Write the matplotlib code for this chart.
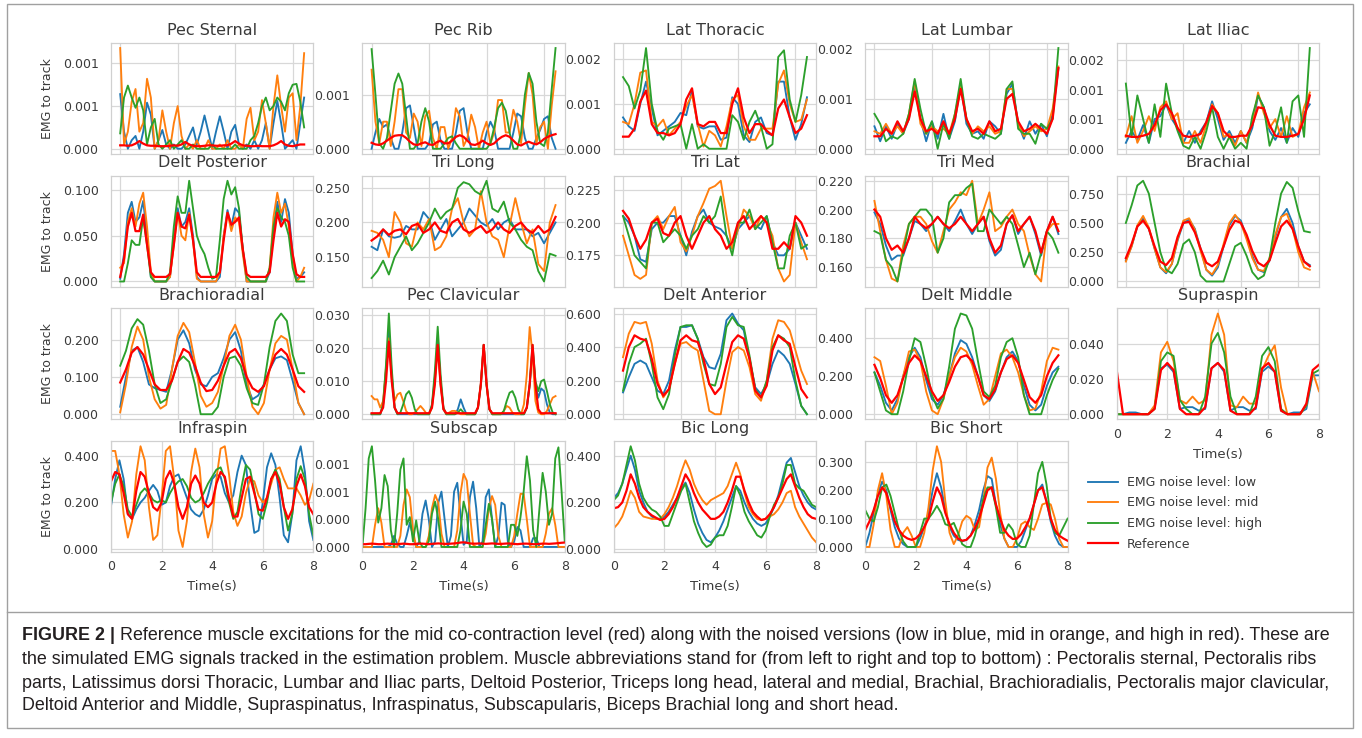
import numpy as np
import matplotlib
matplotlib.use("Agg")
import matplotlib.pyplot as plt
from matplotlib.ticker import FormatStrFormatter
from matplotlib.lines import Line2D
from matplotlib.patches import Rectangle

# ── colours / labels ──
C_LOW, C_MID, C_HIGH, C_REF = "#1f77b4", "#ff7f0e", "#2ca02c", "#ff0000"
LEVEL_LABELS = ["EMG noise level: low", "EMG noise level: mid",
                "EMG noise level: high", "Reference"]

# ── values ──
# rows 1-3 are sampled evenly over the nodes (0..64), row 4 and
# Supraspin evenly over time 0..8 s.  order: low, mid, high, reference

pec_sternal_low = np.array([0.64,0.2,0.0,0.1,0.15,0.0,0.2,0.54,0.4,0.0,0.1,0.22,0.05,0.0,0.05,0.0,0.0,0.05,0.15,0.25,0.05,0.2,0.39,0.2,0.0,0.2,0.38,0.2,0.0,0.2,0.28,0.05,0.0,0.05,0.0,0.1,0.0,0.1,0.3,0.0,0.3,0.56,0.3,0.0,0.05,0.1,0.0,0.3,0.6]) * 1e-3
pec_sternal_mid = np.array([1.18,0.05,0.2,0.55,0.70,0.2,0.3,0.82,0.6,0.0,0.1,0.45,0.2,0.0,0.3,0.50,0.15,0.0,0.05,0.0,0.1,0.0,0.0,0.1,0.0,0.0,0.05,0.0,0.1,0.0,0.0,0.05,0.0,0.35,0.48,0.1,0.2,0.57,0.3,0.0,0.5,0.86,0.5,0.2,0.6,0.65,0.1,0.5,1.12]) * 1e-3
pec_sternal_high = np.array([0.18,0.6,0.74,0.6,0.48,0.6,0.45,0.05,0.25,0.35,0.05,0.0,0.05,0.1,0.0,0.05,0.1,0.0,0.0,0.05,0.0,0.0,0.0,0.0,0.05,0.0,0.0,0.0,0.0,0.0,0.05,0.0,0.0,0.0,0.1,0.15,0.3,0.5,0.6,0.45,0.5,0.6,0.55,0.45,0.65,0.75,0.76,0.55,0.25]) * 1e-3
pec_sternal_ref = np.array([0.04,0.04,0.035,0.04,0.06,0.09,0.06,0.04,0.035,0.035,0.03,0.03,0.03,0.035,0.04,0.035,0.05,0.08,0.05,0.035,0.03,0.03,0.035,0.04,0.04,0.035,0.035,0.04,0.04,0.06,0.09,0.06,0.04,0.035,0.03,0.03,0.035,0.03,0.03,0.03,0.04,0.06,0.09,0.05,0.035,0.03,0.04,0.05,0.05]) * 1e-3

pec_rib_low = np.array([0.0,0.3,0.55,0.4,0.45,0.2,0.0,0.0,0.3,0.75,0.8,0.4,0.0,0.0,0.0,0.1,0.45,0.5,0.15,0.0,0.0,0.0,0.3,0.7,0.75,0.3,0.0,0.0,0.0,0.0,0.3,0.5,0.35,0.0,0.0,0.0,0.0,0.3,0.65,0.6,0.2,0.0,0.0,0.2,0.35,0.55,0.6,0.2,0.0]) * 1e-3
pec_rib_mid = np.array([1.46,0.5,0.1,0.5,0.5,0.05,0.5,1.1,1.1,0.3,0.2,0.65,0.5,0.05,0.6,0.7,0.2,0.0,0.4,0.4,0.0,0.2,0.75,0.6,0.05,0.2,0.63,0.4,0.0,0.3,0.5,0.1,0.3,0.9,0.9,0.3,0.3,0.72,0.5,0.1,0.8,1.4,1.0,0.1,0.4,0.5,0.0,0.8,1.43]) * 1e-3
pec_rib_high = np.array([1.84,1.0,0.1,0.0,0.2,0.7,1.2,1.39,1.2,0.6,0.0,0.0,0.1,0.5,0.75,0.5,0.0,0.0,0.0,0.1,0.2,0.23,0.1,0.0,0.0,0.0,0.0,0.0,0.0,0.0,0.0,0.1,0.4,0.75,0.85,0.7,0.3,0.0,0.0,0.3,1.0,1.4,1.2,0.5,0.1,0.05,0.3,1.1,1.86]) * 1e-3
pec_rib_ref = np.array([0.11,0.08,0.07,0.1,0.15,0.2,0.24,0.25,0.25,0.2,0.13,0.08,0.07,0.1,0.12,0.08,0.07,0.12,0.15,0.1,0.1,0.15,0.22,0.25,0.22,0.15,0.08,0.07,0.1,0.15,0.1,0.07,0.1,0.17,0.22,0.25,0.22,0.15,0.08,0.06,0.1,0.13,0.1,0.08,0.12,0.18,0.22,0.25,0.27]) * 1e-3

lat_thoracic_low = np.array([0.7,0.5,0.4,1.0,1.5,0.9,0.3,0.4,0.5,0.6,0.8,0.75,1.3,0.5,0.45,0.5,0.5,0.2,0.25,1.15,1.0,0.3,0.15,0.6,0.7,0.35,0.3,1.5,1.5,0.7,0.2,0.55,1.15]) * 1e-3
lat_thoracic_mid = np.array([0.6,0.55,1.0,1.7,1.75,0.6,0.5,0.65,0.3,0.45,0.6,0.95,1.2,0.55,0.05,0.4,0.3,0.05,0.5,1.1,1.2,0.5,0.2,0.2,0.45,0.45,0.45,1.45,1.75,1.0,0.6,0.65,1.1]) * 1e-3
lat_thoracic_high = np.array([1.6,1.4,0.9,1.3,2.25,1.0,0.4,0.2,0.45,0.5,0.55,0.0,0.55,0.0,0.1,0.0,0.0,0.0,0.0,0.75,0.6,0.2,0.6,0.85,0.5,0.0,0.1,2.05,2.2,1.1,0.6,1.2,2.05]) * 1e-3
lat_thoracic_ref = np.array([0.27,0.27,0.45,1.05,1.3,0.55,0.35,0.35,0.3,0.35,0.55,1.1,1.35,0.55,0.5,0.6,0.6,0.35,0.35,1.0,1.35,0.7,0.35,0.55,0.55,0.4,0.3,0.9,1.1,0.7,0.35,0.45,0.75]) * 1e-3

lat_lumbar_low = np.array([0.45,0.15,0.45,0.2,0.5,0.3,0.6,1.3,0.6,0.15,0.55,0.2,0.7,0.2,0.55,1.3,0.5,0.3,0.35,0.2,0.55,0.45,0.3,1.1,1.3,0.5,0.2,0.55,0.3,0.5,0.25,0.7,1.6]) * 1e-3
lat_lumbar_mid = np.array([0.35,0.3,0.5,0.3,0.45,0.3,0.7,1.35,0.5,0.3,0.45,0.35,0.4,0.3,0.7,1.25,0.6,0.3,0.45,0.35,0.45,0.3,0.35,1.2,1.2,0.5,0.25,0.35,0.45,0.35,0.4,0.8,1.65]) * 1e-3
lat_lumbar_high = np.array([0.7,0.5,0.15,0.25,0.2,0.3,0.7,1.4,0.8,0.3,0.55,0.0,0.5,0.2,0.7,1.4,0.6,0.25,0.2,0.3,0.25,0.2,0.3,1.2,1.35,0.4,0.3,0.3,0.1,0.5,0.4,0.6,2.02]) * 1e-3
lat_lumbar_ref = np.array([0.25,0.25,0.4,0.3,0.55,0.35,0.6,1.15,0.6,0.35,0.4,0.3,0.55,0.3,0.6,1.2,0.6,0.35,0.4,0.3,0.55,0.35,0.4,1.0,1.1,0.55,0.35,0.4,0.5,0.4,0.3,0.6,1.62]) * 1e-3

lat_iliac_low = np.array([0.1,0.3,0.15,0.4,0.1,0.5,0.55,0.75,0.5,0.35,0.1,0.3,0.1,0.3,0.45,0.8,0.5,0.15,0.3,0.1,0.3,0.1,0.35,0.9,0.7,0.3,0.15,0.35,0.1,0.35,0.2,0.6,0.75]) * 1e-3
lat_iliac_mid = np.array([0.2,0.55,0.1,0.3,0.55,0.3,0.7,0.8,0.5,0.6,0.1,0.1,0.3,0.1,0.4,0.75,0.6,0.2,0.25,0.05,0.3,0.1,0.45,0.95,0.6,0.35,0.5,0.2,0.55,0.2,0.25,0.7,0.95]) * 1e-3
lat_iliac_high = np.array([1.1,0.2,0.9,0.5,0.1,0.75,0.2,1.1,0.6,0.3,0.05,0.0,0.2,0.0,0.3,0.7,0.2,0.0,0.2,0.0,0.1,0.0,0.55,0.9,0.7,0.05,0.3,0.7,0.1,0.8,0.9,0.2,1.7]) * 1e-3
lat_iliac_ref = np.array([0.22,0.2,0.2,0.22,0.25,0.4,0.65,0.75,0.6,0.35,0.22,0.2,0.22,0.25,0.45,0.72,0.6,0.3,0.2,0.2,0.22,0.22,0.4,0.7,0.68,0.4,0.22,0.2,0.2,0.22,0.25,0.5,0.9]) * 1e-3

delt_post_low = np.array([0.3,3.0,7.5,8.7,6.5,7.0,8.8,5.0,0.5,0.0,0.0,0.0,0.0,0.5,4.5,8.0,6.0,6.5,8.0,5.0,0.5,0.0,0.0,0.0,0.0,0.0,0.5,5.0,7.8,6.0,8.0,7.5,3.5,0.0,0.0,0.0,0.0,0.0,0.0,1.0,5.5,8.7,6.5,9.0,7.5,3.0,0.3,0.5,1.0]) * 1e-2
delt_post_mid = np.array([1.5,2.0,6.5,8.0,6.0,8.5,9.7,6.0,1.0,0.0,0.0,0.0,0.0,0.5,4.0,7.5,5.0,4.5,7.5,4.5,0.3,0.0,0.0,0.0,0.0,0.0,1.0,5.0,7.5,5.5,7.0,6.5,3.0,0.0,0.0,0.0,0.0,0.0,0.0,1.5,7.0,9.7,7.5,8.5,6.0,2.0,0.0,0.5,1.5]) * 1e-2
delt_post_high = np.array([0.0,0.0,2.0,4.5,4.0,4.0,7.0,4.0,0.5,0.0,0.0,0.0,0.0,1.0,6.0,9.3,7.5,7.5,11.0,8.0,5.0,3.8,3.0,1.5,0.3,0.5,4.5,9.0,11.0,9.5,10.3,8.0,3.5,0.5,0.0,0.0,0.0,0.0,0.0,1.5,6.0,8.0,7.0,6.5,5.0,1.5,0.0,0.0,0.0]) * 1e-2
delt_post_ref = np.array([0.5,2.5,6.0,7.5,5.5,5.5,7.3,4.0,1.0,0.5,0.5,0.5,0.5,0.8,4.0,7.5,6.0,5.8,7.3,4.5,1.0,0.5,0.5,0.5,0.5,0.5,1.0,4.5,7.5,6.2,6.5,7.0,3.5,0.8,0.5,0.5,0.5,0.5,0.5,1.0,4.5,7.5,6.0,6.8,6.5,3.0,0.8,0.5,0.5]) * 1e-2

tri_long_low = [0.165,0.16,0.19,0.18,0.178,0.18,0.195,0.19,0.19,0.215,0.205,0.175,0.19,0.205,0.18,0.19,0.2,0.22,0.21,0.2,0.195,0.205,0.19,0.2,0.205,0.19,0.19,0.19,0.18,0.185,0.17,0.185,0.2]
tri_long_mid = [0.188,0.185,0.175,0.15,0.215,0.2,0.17,0.165,0.2,0.19,0.205,0.16,0.165,0.18,0.22,0.235,0.2,0.18,0.19,0.245,0.2,0.18,0.175,0.15,0.195,0.235,0.2,0.17,0.19,0.14,0.13,0.2,0.225]
tri_long_high = [0.12,0.13,0.145,0.125,0.15,0.165,0.18,0.16,0.17,0.185,0.2,0.22,0.205,0.215,0.22,0.25,0.258,0.255,0.245,0.24,0.26,0.22,0.215,0.23,0.2,0.19,0.175,0.165,0.16,0.13,0.115,0.155,0.152]
tri_long_ref = [0.174,0.18,0.19,0.182,0.188,0.19,0.183,0.195,0.198,0.185,0.19,0.2,0.188,0.185,0.2,0.205,0.19,0.185,0.19,0.195,0.185,0.19,0.2,0.19,0.185,0.195,0.2,0.19,0.185,0.195,0.185,0.19,0.208]

tri_lat_low = [0.205,0.2,0.19,0.172,0.17,0.195,0.2,0.2,0.205,0.205,0.19,0.175,0.193,0.205,0.21,0.2,0.197,0.195,0.19,0.18,0.195,0.2,0.205,0.198,0.195,0.205,0.185,0.175,0.175,0.18,0.2,0.19,0.18]
tri_lat_mid = [0.19,0.175,0.16,0.157,0.16,0.2,0.205,0.195,0.205,0.212,0.185,0.178,0.19,0.205,0.215,0.226,0.228,0.232,0.205,0.18,0.195,0.21,0.205,0.195,0.205,0.2,0.19,0.165,0.155,0.16,0.2,0.185,0.172]
tri_lat_high = [0.205,0.19,0.175,0.17,0.165,0.2,0.2,0.185,0.19,0.195,0.19,0.18,0.19,0.195,0.205,0.2,0.205,0.22,0.19,0.175,0.2,0.2,0.21,0.195,0.2,0.205,0.185,0.165,0.165,0.19,0.2,0.18,0.183]
tri_lat_ref = [0.209,0.203,0.19,0.18,0.187,0.2,0.203,0.192,0.19,0.2,0.205,0.19,0.18,0.19,0.2,0.205,0.195,0.19,0.18,0.185,0.2,0.205,0.195,0.2,0.205,0.2,0.18,0.18,0.185,0.18,0.205,0.2,0.19]

tri_med_low = [0.198,0.19,0.175,0.165,0.168,0.168,0.18,0.192,0.19,0.185,0.19,0.195,0.19,0.185,0.192,0.2,0.19,0.183,0.19,0.195,0.178,0.168,0.172,0.19,0.196,0.183,0.19,0.195,0.183,0.168,0.185,0.195,0.183]
tri_med_mid = [0.206,0.185,0.165,0.152,0.15,0.175,0.19,0.195,0.195,0.19,0.178,0.17,0.185,0.2,0.205,0.212,0.21,0.22,0.19,0.2,0.212,0.185,0.188,0.195,0.2,0.19,0.185,0.168,0.155,0.15,0.185,0.19,0.19]
tri_med_high = [0.185,0.183,0.165,0.16,0.15,0.17,0.19,0.195,0.2,0.2,0.195,0.17,0.18,0.205,0.21,0.21,0.215,0.218,0.185,0.185,0.2,0.195,0.19,0.195,0.19,0.175,0.16,0.17,0.155,0.17,0.185,0.18,0.17]
tri_med_ref = [0.2,0.195,0.18,0.172,0.175,0.17,0.18,0.195,0.19,0.187,0.19,0.195,0.19,0.187,0.19,0.195,0.19,0.185,0.19,0.195,0.18,0.17,0.175,0.19,0.196,0.185,0.19,0.195,0.185,0.17,0.185,0.195,0.185]

brachial_low = [0.18,0.3,0.47,0.54,0.45,0.28,0.12,0.07,0.15,0.35,0.5,0.53,0.45,0.28,0.1,0.05,0.12,0.3,0.48,0.56,0.52,0.38,0.22,0.1,0.08,0.18,0.38,0.55,0.62,0.5,0.3,0.17,0.14]
brachial_mid = [0.17,0.3,0.48,0.56,0.46,0.28,0.12,0.08,0.15,0.36,0.52,0.54,0.44,0.26,0.1,0.06,0.14,0.32,0.5,0.57,0.5,0.36,0.2,0.1,0.09,0.2,0.4,0.55,0.58,0.45,0.25,0.12,0.1]
brachial_high = [0.5,0.65,0.82,0.86,0.75,0.5,0.25,0.1,0.07,0.15,0.32,0.36,0.25,0.05,0.0,0.0,0.0,0.0,0.15,0.3,0.33,0.22,0.08,0.02,0.05,0.2,0.5,0.75,0.85,0.8,0.6,0.43,0.42]
brachial_ref = [0.2,0.32,0.47,0.52,0.45,0.3,0.17,0.14,0.2,0.38,0.5,0.51,0.42,0.28,0.16,0.13,0.17,0.3,0.44,0.52,0.5,0.4,0.26,0.16,0.13,0.18,0.33,0.47,0.52,0.45,0.3,0.17,0.13]

brachiorad_low = [0.02,0.1,0.17,0.18,0.14,0.08,0.07,0.065,0.06,0.12,0.2,0.225,0.19,0.12,0.08,0.075,0.1,0.11,0.15,0.2,0.22,0.17,0.08,0.04,0.05,0.08,0.12,0.15,0.155,0.145,0.09,0.03,0.0]
brachiorad_mid = [0.005,0.08,0.18,0.235,0.2,0.1,0.04,0.015,0.025,0.12,0.21,0.245,0.22,0.14,0.05,0.02,0.03,0.06,0.13,0.21,0.24,0.2,0.1,0.02,0.0,0.03,0.12,0.19,0.21,0.2,0.12,0.03,0.0]
brachiorad_high = [0.13,0.17,0.23,0.255,0.24,0.17,0.08,0.03,0.04,0.09,0.14,0.155,0.14,0.08,0.0,0.0,0.0,0.02,0.1,0.15,0.155,0.13,0.07,0.03,0.025,0.08,0.18,0.25,0.27,0.25,0.16,0.11,0.11]
brachiorad_ref = [0.085,0.12,0.165,0.18,0.16,0.12,0.08,0.065,0.065,0.09,0.14,0.175,0.165,0.13,0.085,0.062,0.065,0.09,0.13,0.165,0.175,0.15,0.1,0.07,0.06,0.075,0.12,0.16,0.175,0.16,0.12,0.075,0.06]

pec_clav_low = np.array([0,0,0,0,3,13,25,12,2, 0,0,0,0,0,0,0,0,0,0,0,0, 2.5,11,22,10,1.5, 0,0,0,0,1.5,4.5,2,0,0,0,0, 2,9,21,9,1.5, 0,0,0,0,0,0,0,0,0,0,0,0, 2,9,20,9,5, 7.8,7,3,0.5,0,0]) * 1e-3
pec_clav_mid = np.array([5.5,4.5,4.5,2,4,14,23,11,4, 6,6.5,4,1,0,0,0.5,1.5,2.5,1.5,0.3,0, 2,10,21,9,1.5, 0,0.5,1,1,0.5,0,0,0,0,0,0, 2,9,21,9,1.5, 0,0,0,0,1,2.5,2,0.5,0,0,0,3, 12,26.4,18,4,0.5, 0,0,1,3,5,5.5]) * 1e-3
pec_clav_high = np.array([0,0,0,0,3,15,30.5,14,2, 0,0.5,3,6,7,5,1.5,0,0,0,0,0, 3,13,26.5,12,2, 0,0,0,0,0.5,1.5,0.5,0,0,0,0, 2,9,21,9,1.5, 0,0,0,0,1,4,6.5,7,5,1.5,0,0, 2,9,21,10,7, 10,10.5,7,3,0.5,0]) * 1e-3
pec_clav_ref = np.array([0.3,0.3,0.3,0.3,2,10,22,10,2, 0.3,0.3,0.3,0.3,0.3,0.3,0.3,0.3,0.3,0.3,0.3,0.3, 2,9,21,9,1.5, 0.3,0.3,0.3,0.3,0.3,0.3,0.3,0.3,0.3,0.3,0.3, 2,9,21,9,1.5, 0.3,0.3,0.3,0.3,0.3,0.3,0.3,0.3,0.3,0.3,0.3,0.3, 2,9,21,9,1.5, 0.3,0.3,0.3,0.3,0.3,0.3]) * 1e-3

delt_ant_low = [0.13,0.22,0.3,0.32,0.3,0.22,0.14,0.12,0.2,0.38,0.52,0.52,0.53,0.45,0.34,0.28,0.27,0.36,0.56,0.6,0.54,0.5,0.33,0.16,0.12,0.18,0.3,0.38,0.35,0.3,0.18,0.05,0.0]
delt_ant_mid = [0.34,0.48,0.55,0.54,0.55,0.42,0.2,0.1,0.15,0.3,0.42,0.43,0.4,0.38,0.2,0.02,0.0,0.0,0.2,0.37,0.4,0.38,0.28,0.12,0.08,0.2,0.45,0.56,0.55,0.5,0.38,0.26,0.18]
delt_ant_high = [0.14,0.3,0.4,0.42,0.45,0.3,0.1,0.03,0.12,0.35,0.52,0.53,0.53,0.45,0.3,0.18,0.17,0.3,0.52,0.58,0.53,0.52,0.35,0.15,0.1,0.2,0.4,0.47,0.45,0.4,0.2,0.05,0.0]
delt_ant_ref = [0.26,0.4,0.47,0.45,0.44,0.33,0.18,0.11,0.15,0.3,0.44,0.47,0.44,0.43,0.33,0.18,0.12,0.16,0.3,0.43,0.47,0.45,0.33,0.14,0.1,0.17,0.38,0.47,0.44,0.42,0.28,0.15,0.1]

delt_mid_low = [0.22,0.15,0.06,0.02,0.08,0.2,0.3,0.35,0.3,0.18,0.08,0.05,0.1,0.2,0.32,0.39,0.37,0.3,0.2,0.1,0.07,0.12,0.22,0.3,0.33,0.28,0.15,0.05,0.02,0.05,0.15,0.22,0.25]
delt_mid_mid = [0.3,0.28,0.15,0.0,0.06,0.2,0.33,0.34,0.28,0.12,0.02,0.0,0.08,0.2,0.3,0.35,0.33,0.26,0.15,0.05,0.08,0.2,0.32,0.34,0.3,0.22,0.1,0.02,0.03,0.12,0.28,0.35,0.34]
delt_mid_high = [0.22,0.12,0.02,0.0,0.0,0.12,0.28,0.4,0.38,0.25,0.1,0.03,0.08,0.25,0.45,0.53,0.52,0.45,0.28,0.12,0.09,0.15,0.3,0.38,0.4,0.3,0.1,0.0,0.0,0.0,0.1,0.18,0.24]
delt_mid_ref = [0.26,0.19,0.1,0.06,0.1,0.19,0.27,0.31,0.28,0.2,0.12,0.07,0.1,0.17,0.25,0.3,0.31,0.28,0.2,0.1,0.08,0.13,0.22,0.29,0.31,0.27,0.18,0.09,0.06,0.1,0.2,0.27,0.31]

supraspin_low = np.array([0,0,1,1,0,0,4,26,28,24,3,4,4,2,3,26,29,24,2,4,4,2,3,24,27,24,2,0,1,1,3,22,22]) * 1e-3
supraspin_mid = np.array([0,0,0,0,0,0,5,35,41,30,8,6,10,6,8,45,57,45,5,4,10,6,6,25,33,39,15,0,0,0,5,24,13]) * 1e-3
supraspin_high = np.array([0,0,0,0,0,0,3,30,35,33,8,3,0,0,10,40,46,35,10,0,0,0,10,33,38,30,3,0,0,0,5,23,25]) * 1e-3
supraspin_ref = np.array([25,0,0,0,0,0,3,25,29,25,3,0,0,0,4,26,29,25,2,0,0,0,4,26,29,24,2,0,0,0,6,25,28]) * 1e-3

infraspin_low = [0.185,0.3,0.38,0.3,0.15,0.13,0.17,0.2,0.22,0.25,0.275,0.25,0.19,0.2,0.27,0.31,0.32,0.27,0.22,0.17,0.15,0.14,0.17,0.23,0.3,0.32,0.31,0.24,0.2,0.23,0.33,0.4,0.36,0.2,0.07,0.08,0.2,0.35,0.41,0.36,0.22,0.06,0.03,0.15,0.38,0.44,0.33,0.12,0.04]
infraspin_mid = [0.42,0.42,0.32,0.15,0.05,0.12,0.32,0.44,0.38,0.18,0.04,0.06,0.22,0.42,0.44,0.3,0.08,0.01,0.12,0.33,0.43,0.35,0.15,0.05,0.12,0.3,0.43,0.44,0.32,0.16,0.1,0.14,0.24,0.3,0.29,0.23,0.2,0.22,0.28,0.34,0.35,0.3,0.26,0.26,0.26,0.23,0.19,0.21,0.28]
infraspin_high = [0.2,0.28,0.32,0.27,0.17,0.14,0.19,0.24,0.26,0.24,0.21,0.2,0.21,0.2,0.24,0.27,0.29,0.3,0.27,0.22,0.2,0.21,0.24,0.28,0.31,0.34,0.35,0.3,0.2,0.13,0.16,0.27,0.36,0.34,0.25,0.15,0.13,0.2,0.3,0.34,0.3,0.18,0.08,0.15,0.3,0.355,0.3,0.15,0.06]
infraspin_ref = [0.29,0.33,0.32,0.24,0.15,0.13,0.25,0.33,0.31,0.24,0.18,0.165,0.2,0.3,0.335,0.28,0.18,0.13,0.18,0.28,0.315,0.28,0.2,0.18,0.2,0.28,0.33,0.31,0.22,0.14,0.14,0.22,0.3,0.31,0.24,0.17,0.165,0.22,0.3,0.33,0.28,0.18,0.13,0.17,0.27,0.32,0.27,0.18,0.15]

subscap_low = np.array([0,0,0,0,0,0,0,0,0,0.02,0.1,0.03,0,0,0.1,0.22,0.1,0,0.05,0.3,0.42,0.25,0,0.05,0.4,0.5,0.25,0,0.1,0.5,0.58,0.3,0.02,0.05,0.45,0.59,0.35,0,0.05,0.45,0.52,0.25,0,0.1,0.4,0.38,0.05,0,0.05,0.18,0.15,0,0,0,0.08,0.08,0,0,0,0,0,0,0,0,0]) * 1e-3
subscap_mid = np.array([0,0,0,0,0.2,0.35,0.22,0,0,0,0,0,0.1,0.38,0.52,0.45,0.15,0,0,0,0,0.1,0.35,0.47,0.4,0.12,0,0,0,0,0.15,0.48,0.66,0.6,0.3,0.02,0,0,0,0.12,0.35,0.46,0.38,0.1,0,0,0,0,0.1,0.3,0.48,0.48,0.25,0,0,0,0,0,0.12,0.3,0.35,0.2,0,0,0]) * 1e-3
subscap_high = np.array([0,0.35,0.8,0.91,0.6,0.22,0.35,0.65,0.55,0.15,0,0.3,0.7,0.8,0.2,0.27,0.05,0.24,0.05,0,0,0.05,0.3,0.41,0.25,0,0,0,0,0,0,0.15,0.41,0.3,0,0,0,0,0,0.2,0.39,0.25,0,0,0,0,0,0.2,0.2,0.1,0.27,0.5,0.82,0.6,0.15,0,0.35,0.67,0.5,0.2,0.3,0.8,0.9,0.5,0.05]) * 1e-3
subscap_ref = np.array([0.025,0.025,0.028,0.03,0.028,0.025,0.025,0.028,0.03,0.028,0.025,0.025,0.028,0.03,0.028,0.025,0.025,0.028,0.03,0.03,0.028,0.025,0.028,0.03,0.032,0.03,0.028,0.028,0.03,0.032,0.035,0.04,0.042,0.038,0.032,0.03,0.03,0.032,0.03,0.028,0.03,0.032,0.03,0.028,0.028,0.03,0.032,0.03,0.028,0.025,0.028,0.03,0.03,0.028,0.025,0.025,0.028,0.03,0.03,0.028,0.03,0.032,0.035,0.038,0.04]) * 1e-3

bic_long_low = [0.22,0.24,0.28,0.34,0.4,0.34,0.25,0.2,0.16,0.14,0.13,0.13,0.14,0.16,0.19,0.22,0.26,0.285,0.24,0.17,0.11,0.07,0.04,0.03,0.05,0.08,0.12,0.17,0.22,0.27,0.25,0.2,0.16,0.13,0.11,0.1,0.11,0.14,0.18,0.23,0.3,0.37,0.39,0.33,0.27,0.23,0.2,0.18,0.17]
bic_long_mid = [0.09,0.11,0.14,0.19,0.25,0.22,0.16,0.14,0.135,0.13,0.13,0.13,0.15,0.18,0.22,0.27,0.33,0.38,0.34,0.28,0.24,0.21,0.19,0.21,0.22,0.23,0.24,0.27,0.32,0.37,0.32,0.24,0.18,0.15,0.13,0.125,0.13,0.14,0.15,0.17,0.2,0.24,0.25,0.18,0.14,0.11,0.08,0.05,0.03]
bic_long_high = [0.21,0.23,0.28,0.36,0.44,0.38,0.28,0.22,0.19,0.17,0.16,0.14,0.1,0.1,0.15,0.2,0.25,0.28,0.2,0.12,0.07,0.03,0.01,0.02,0.05,0.06,0.06,0.1,0.18,0.27,0.23,0.16,0.12,0.09,0.06,0.05,0.08,0.14,0.19,0.22,0.28,0.36,0.36,0.28,0.26,0.25,0.22,0.19,0.18]
bic_long_ref = [0.175,0.18,0.2,0.25,0.32,0.28,0.22,0.18,0.16,0.145,0.135,0.125,0.13,0.15,0.18,0.22,0.27,0.32,0.29,0.24,0.2,0.17,0.15,0.13,0.13,0.14,0.16,0.2,0.25,0.31,0.31,0.25,0.2,0.16,0.14,0.125,0.13,0.15,0.18,0.22,0.26,0.3,0.32,0.27,0.22,0.18,0.15,0.135,0.13]

bic_short_low = [0.0,0.05,0.12,0.19,0.23,0.2,0.13,0.07,0.03,0.01,0.0,0.0,0.0,0.03,0.07,0.12,0.2,0.26,0.21,0.13,0.07,0.04,0.025,0.02,0.025,0.04,0.08,0.13,0.2,0.25,0.24,0.15,0.08,0.03,0.0,0.0,0.0,0.02,0.06,0.1,0.15,0.2,0.22,0.16,0.09,0.04,0.01,0.0,0.0]
bic_short_mid = [0.0,0.0,0.08,0.2,0.26,0.18,0.06,0.0,0.0,0.05,0.07,0.04,0.0,0.0,0.05,0.14,0.27,0.355,0.3,0.16,0.05,0.01,0.04,0.09,0.11,0.1,0.06,0.07,0.16,0.28,0.315,0.24,0.12,0.03,0.0,0.0,0.03,0.08,0.09,0.07,0.06,0.1,0.15,0.155,0.15,0.1,0.03,0.0,0.0]
bic_short_high = [0.13,0.1,0.09,0.14,0.21,0.22,0.18,0.12,0.06,0.02,0.0,0.0,0.0,0.05,0.1,0.1,0.12,0.145,0.12,0.08,0.075,0.085,0.05,0.01,0.0,0.0,0.04,0.1,0.17,0.21,0.21,0.14,0.05,0.05,0.08,0.06,0.01,0.0,0.0,0.04,0.15,0.26,0.3,0.22,0.1,0.05,0.04,0.07,0.1]
bic_short_ref = [0.06,0.09,0.13,0.18,0.21,0.19,0.14,0.09,0.06,0.04,0.03,0.025,0.03,0.045,0.07,0.1,0.16,0.21,0.18,0.12,0.08,0.05,0.03,0.022,0.025,0.04,0.065,0.1,0.15,0.2,0.21,0.15,0.1,0.06,0.04,0.028,0.03,0.045,0.07,0.1,0.15,0.2,0.21,0.16,0.1,0.06,0.04,0.03,0.022]

# title, series, y ticks, x axis kind
panels = [
    ("Pec Sternal", (pec_sternal_low, pec_sternal_mid, pec_sternal_high, pec_sternal_ref), [0, 0.0005, 0.001], "node"),
    ("Pec Rib", (pec_rib_low, pec_rib_mid, pec_rib_high, pec_rib_ref), [0, 0.001], "node"),
    ("Lat Thoracic", (lat_thoracic_low, lat_thoracic_mid, lat_thoracic_high, lat_thoracic_ref), [0, 0.001, 0.002], "node"),
    ("Lat Lumbar", (lat_lumbar_low, lat_lumbar_mid, lat_lumbar_high, lat_lumbar_ref), [0, 0.001, 0.002], "node"),
    ("Lat Iliac", (lat_iliac_low, lat_iliac_mid, lat_iliac_high, lat_iliac_ref), [0, 0.0005, 0.001, 0.0015], "node"),
    ("Delt Posterior", (delt_post_low, delt_post_mid, delt_post_high, delt_post_ref), [0, 0.05, 0.1], "node"),
    ("Tri Long", (tri_long_low, tri_long_mid, tri_long_high, tri_long_ref), [0.15, 0.2, 0.25], "node"),
    ("Tri Lat", (tri_lat_low, tri_lat_mid, tri_lat_high, tri_lat_ref), [0.175, 0.2, 0.225], "node"),
    ("Tri Med", (tri_med_low, tri_med_mid, tri_med_high, tri_med_ref), [0.16, 0.18, 0.2, 0.22], "node"),
    ("Brachial", (brachial_low, brachial_mid, brachial_high, brachial_ref), [0, 0.25, 0.5, 0.75], "node"),
    ("Brachioradial", (brachiorad_low, brachiorad_mid, brachiorad_high, brachiorad_ref), [0, 0.1, 0.2], "node"),
    ("Pec Clavicular", (pec_clav_low, pec_clav_mid, pec_clav_high, pec_clav_ref), [0, 0.01, 0.02, 0.03], "node"),
    ("Delt Anterior", (delt_ant_low, delt_ant_mid, delt_ant_high, delt_ant_ref), [0, 0.2, 0.4, 0.6], "node"),
    ("Delt Middle", (delt_mid_low, delt_mid_mid, delt_mid_high, delt_mid_ref), [0, 0.2, 0.4], "node"),
    ("Supraspin", (supraspin_low, supraspin_mid, supraspin_high, supraspin_ref), [0, 0.02, 0.04], "time"),
    ("Infraspin", (infraspin_low, infraspin_mid, infraspin_high, infraspin_ref), [0, 0.2, 0.4], "time"),
    ("Subscap", (subscap_low, subscap_mid, subscap_high, subscap_ref), [0, 0.00025, 0.0005, 0.00075], "time"),
    ("Bic Long", (bic_long_low, bic_long_mid, bic_long_high, bic_long_ref), [0, 0.2, 0.4], "time"),
    ("Bic Short", (bic_short_low, bic_short_mid, bic_short_high, bic_short_ref), [0, 0.1, 0.2, 0.3], "time"),
]

CAPTION_BOLD = "FIGURE 2 |"
CAPTION_LINES = [
    " Reference muscle excitations for the mid co-contraction level (red) along with the noised versions (low in blue, mid in orange, and high in red). These are",
    "the simulated EMG signals tracked in the estimation problem. Muscle abbreviations stand for (from left to right and top to bottom) : Pectoralis sternal, Pectoralis ribs",
    "parts, Latissimus dorsi Thoracic, Lumbar and Iliac parts, Deltoid Posterior, Triceps long head, lateral and medial, Brachial, Brachioradialis, Pectoralis major clavicular,",
    "Deltoid Anterior and Middle, Supraspinatus, Infraspinatus, Subscapularis, Biceps Brachial long and short head.",
]

# ── style ──
TXT = "#3a3a3a"
plt.rcParams.update({
    "font.family": "DejaVu Sans",
    "axes.edgecolor": "#d0d0d0",
    "axes.linewidth": 0.9,
    "axes.grid": True,
    "grid.color": "#d8d8d8",
    "grid.linewidth": 0.9,
    "xtick.major.size": 0,
    "ytick.major.size": 0,
    "xtick.major.pad": 6,
    "ytick.major.pad": 9,
    "xtick.color": TXT,
    "ytick.color": TXT,
    "xtick.labelsize": 9,
    "ytick.labelsize": 9,
    "axes.labelcolor": TXT,
    "text.color": TXT,
})

W, H = 1362, 738
fig = plt.figure(figsize=(W / 100, H / 100), dpi=100)
axes = fig.subplots(4, 5)
fig.subplots_adjust(left=111 / W, right=1319 / W, top=1 - 43 / H, bottom=1 - 552 / H,
                    wspace=49 / 202, hspace=22 / 111)

colors = [C_LOW, C_MID, C_HIGH, C_REF]
for idx, (title, series, yticks, kind) in enumerate(panels):
    ax = axes.flat[idx]
    for y, c in zip(series, colors):
        y = np.asarray(y)
        if kind == "node":
            x = np.linspace(0, 64, len(y))
        else:
            x = np.linspace(0, 8, len(y))
        ax.plot(x, y, color=c, lw=1.6 if c == C_REF else 1.35)
    ax.set_title(title, fontsize=11.5, color=TXT)
    ax.set_yticks(yticks)
    ax.yaxis.set_major_formatter(FormatStrFormatter("%.3f"))
    if kind == "node":
        ax.set_xticks([0, 20, 40, 60])
        ax.tick_params(labelbottom=False)
    else:
        ax.set_xlim(0, 8)
        ax.set_xticks([0, 2, 4, 6, 8])
        ax.set_xlabel("Time(s)", fontsize=9.5, labelpad=5)
    if idx % 5 == 0:
        ax.set_ylabel("EMG to track", fontsize=9, labelpad=6)

axes.flat[19].axis("off")
handles = [Line2D([], [], color=c, lw=1.6 if c == C_REF else 1.35) for c in colors]
fig.legend(handles, LEVEL_LABELS, loc="upper left", bbox_to_anchor=(1083 / W, 1 - 471 / H),
           frameon=False, fontsize=9, handlelength=2.4, labelspacing=0.6,
           handletextpad=0.7, borderaxespad=0)

# ── frame and caption ──
fig.add_artist(Rectangle((7 / W, 1 - 728 / H), (1353 - 7) / W, (728 - 4) / H,
                         transform=fig.transFigure, fill=False, ec="#a0a0a0", lw=1))
fig.add_artist(Line2D([7 / W, 1353 / W], [1 - 612 / H] * 2, transform=fig.transFigure,
                      color="#a0a0a0", lw=1))

cap_font = dict(family=["Liberation Sans Narrow", "Liberation Sans"], fontsize=12.85,
                color="#231f20", va="center")
renderer = fig.canvas.get_renderer()
y0 = [636, 659, 683, 706]
bold = fig.text(22 / W, 1 - y0[0] / H, CAPTION_BOLD, fontweight="bold", **cap_font)
bw = bold.get_window_extent(renderer).width
for i, line in enumerate(CAPTION_LINES):
    x0 = (22 + bw) / W if i == 0 else 22 / W
    fig.text(x0, 1 - y0[i] / H, line, **cap_font)

fig.savefig("out.png", dpi=100, facecolor="white")
